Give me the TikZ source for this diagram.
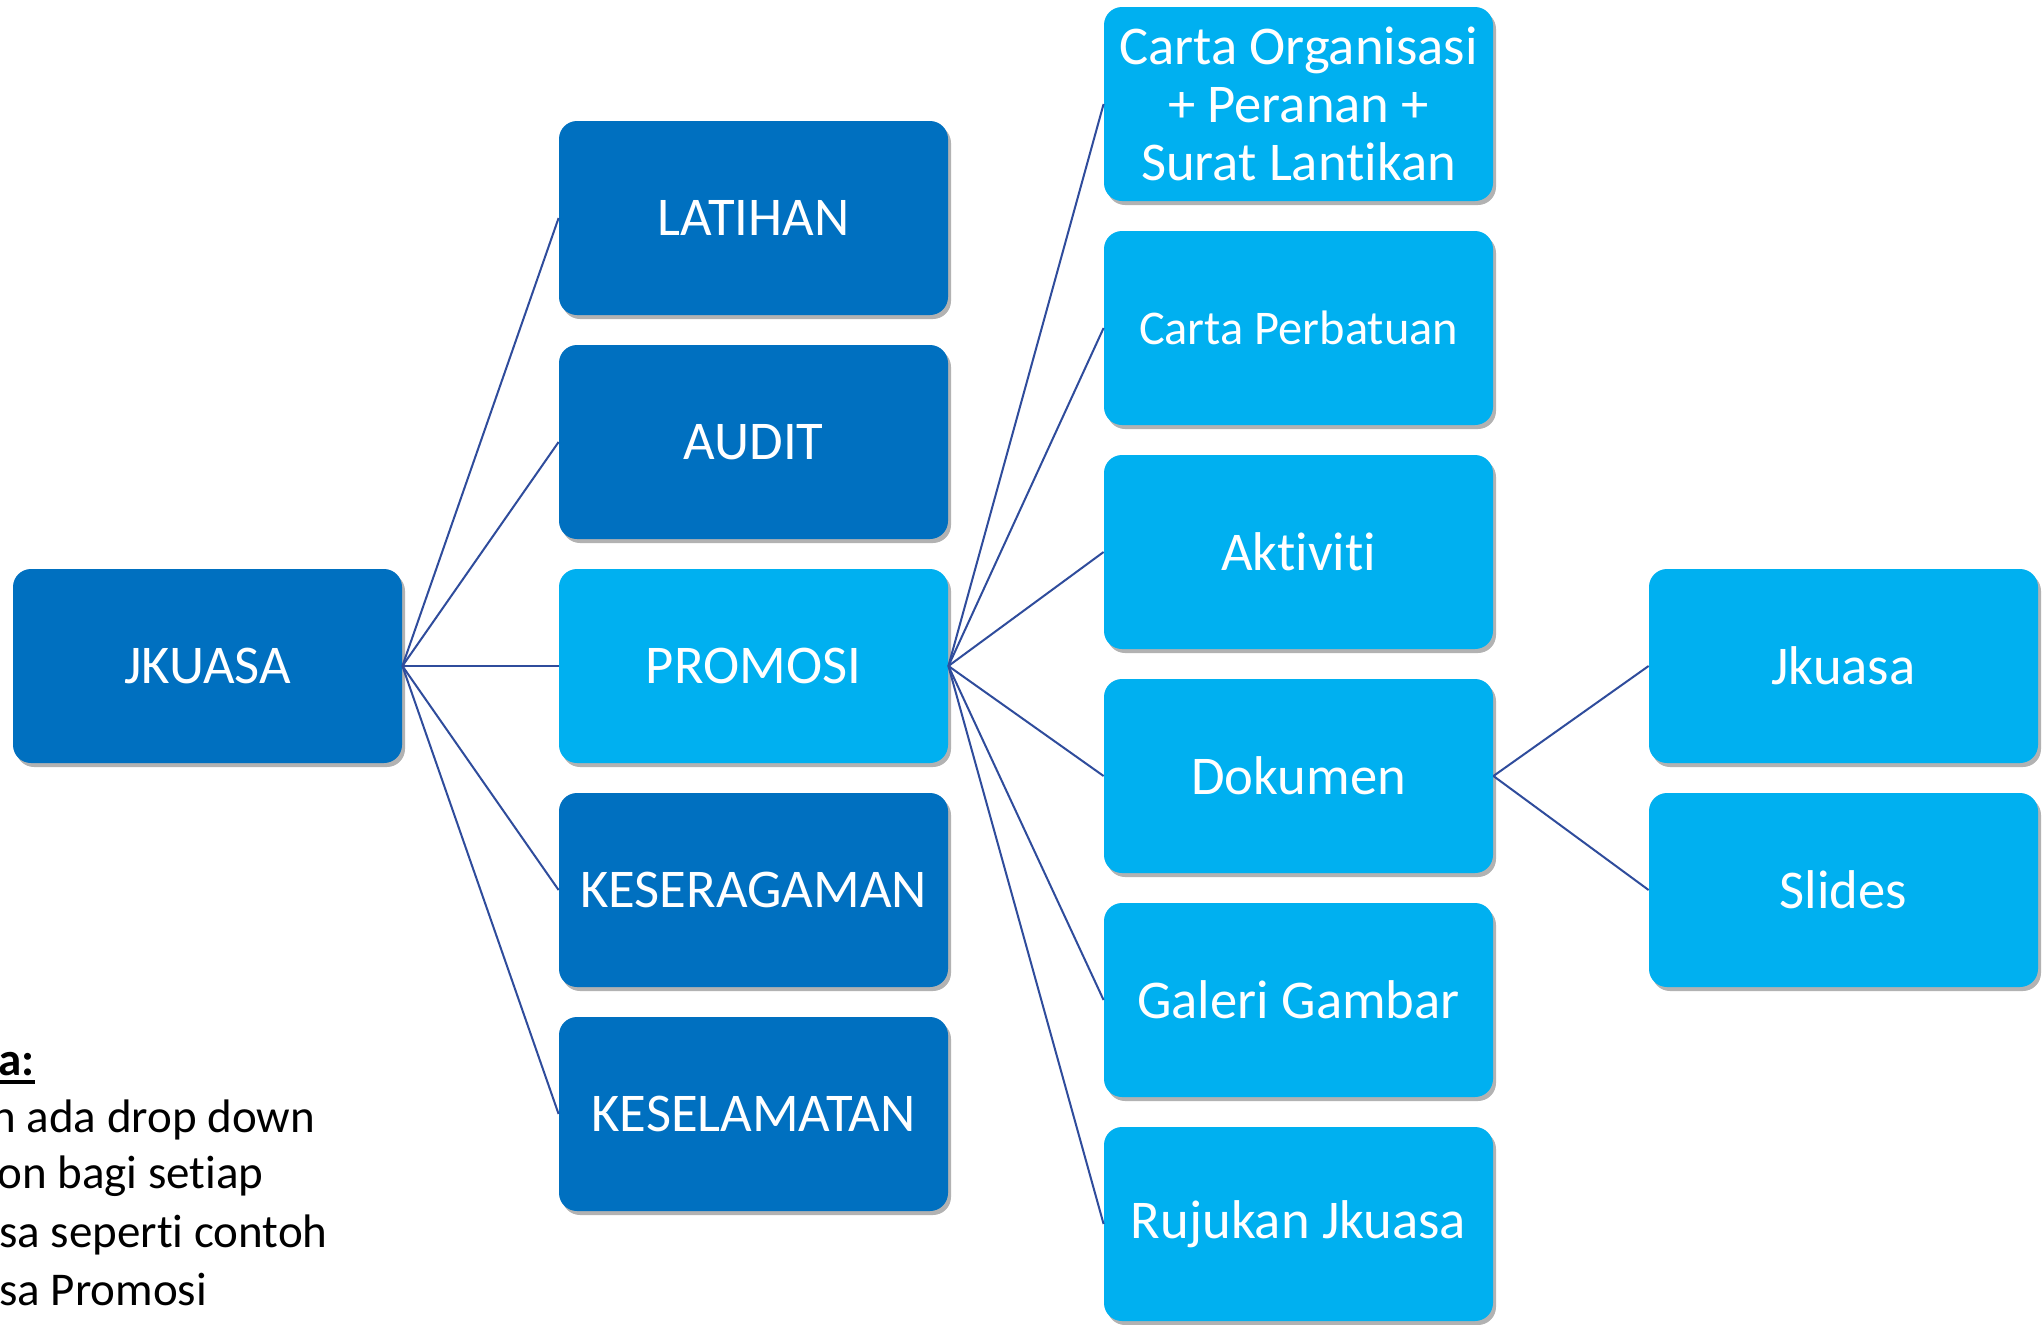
\documentclass[tikz,border=0pt]{standalone}
\usepackage{fontspec}
\setmainfont{Carlito}[RawFeature={-liga;-clig;-dlig;-rlig;-calt}]
\usetikzlibrary{shadows}
\newcommand{\tyi}{t\kern0pt i}
\definecolor{darkbox}{HTML}{0070C0}
\definecolor{lightbox}{HTML}{00B0F0}
\definecolor{linkcol}{HTML}{2F4C9C}
\tikzset{
  box/.style={rectangle, rounded corners=9pt, minimum width=194.5pt, minimum height=97pt,
    inner sep=0pt, align=center, text=white, font=\fontsize{27.3}{29}\selectfont,
    drop shadow={shadow xshift=1.5pt, shadow yshift=-2pt, opacity=0.3, fill=black}},
  dbox/.style={box, fill=darkbox},
  lbox/.style={box, fill=lightbox},
  link/.style={draw=linkcol, line width=1pt},
  note/.style={anchor=base west, inner sep=0pt, font=\fontsize{23.5}{28.75}\selectfont, text=black}
}
\begin{document}
\begin{tikzpicture}[x=0.5pt,y=-0.5pt]
\useasboundingbox[fill=white] (0,0) rectangle (2042,1324);
% level 0
\node[dbox] (jk) at (207.5,666) {JKUASA};
% level 1
\node[dbox] (lat) at (753.5,218) {LATIHAN};
\node[dbox] (aud) at (753.5,442) {AUDIT};
\node[lbox] (pro) at (753.5,666) {PROMOSI};
\node[dbox] (ser) at (753.5,890) {KESERAGAMAN};
\node[dbox] (sel) at (753.5,1114) {KESELAMATAN};
% level 2
\node[lbox] (org) at (1298.5,104) {Carta Organisasi\\+ Peranan +\\Surat Lan\tyi kan};
\node[lbox, font=\fontsize{24.2}{29}\selectfont] (per) at (1298.5,328) {Carta Perbatuan};
\node[lbox] (akt) at (1298.5,552) {Aktivi\tyi};
\node[lbox] (dok) at (1298.5,776) {Dokumen};
\node[lbox] (gal) at (1298.5,1000) {Galeri Gambar};
\node[lbox] (ruj) at (1298.5,1224) {Rujukan Jkuasa};
% level 3
\node[lbox] (jks) at (1843.5,666) {Jkuasa};
\node[lbox] (sli) at (1843.5,890) {Slides};
% connectors
\foreach \t in {lat,aud,pro,ser,sel} \draw[link] (jk.east) -- (\t.west);
\foreach \t in {org,per,akt,dok,gal,ruj} \draw[link] (pro.east) -- (\t.west);
\foreach \t in {jks,sli} \draw[link] (dok.east) -- (\t.west);
% notes (cut off at the left edge)
\node[note] (n0) at (-2,1075) {\textbf{a:}};
\draw[line width=1.6pt] (0,1082) -- (n0.base east |- 0,1082);
\node[note] (n1) at (-9,1132) {n ada drop down};
\node[note] (n2) at (-3,1188) {on bagi se\tyi ap};
\node[note] (n3) at (-1,1247) {sa seper\tyi{} contoh};
\node[note] (n4) at (-1,1305) {sa Promosi};
\end{tikzpicture}
\end{document}
